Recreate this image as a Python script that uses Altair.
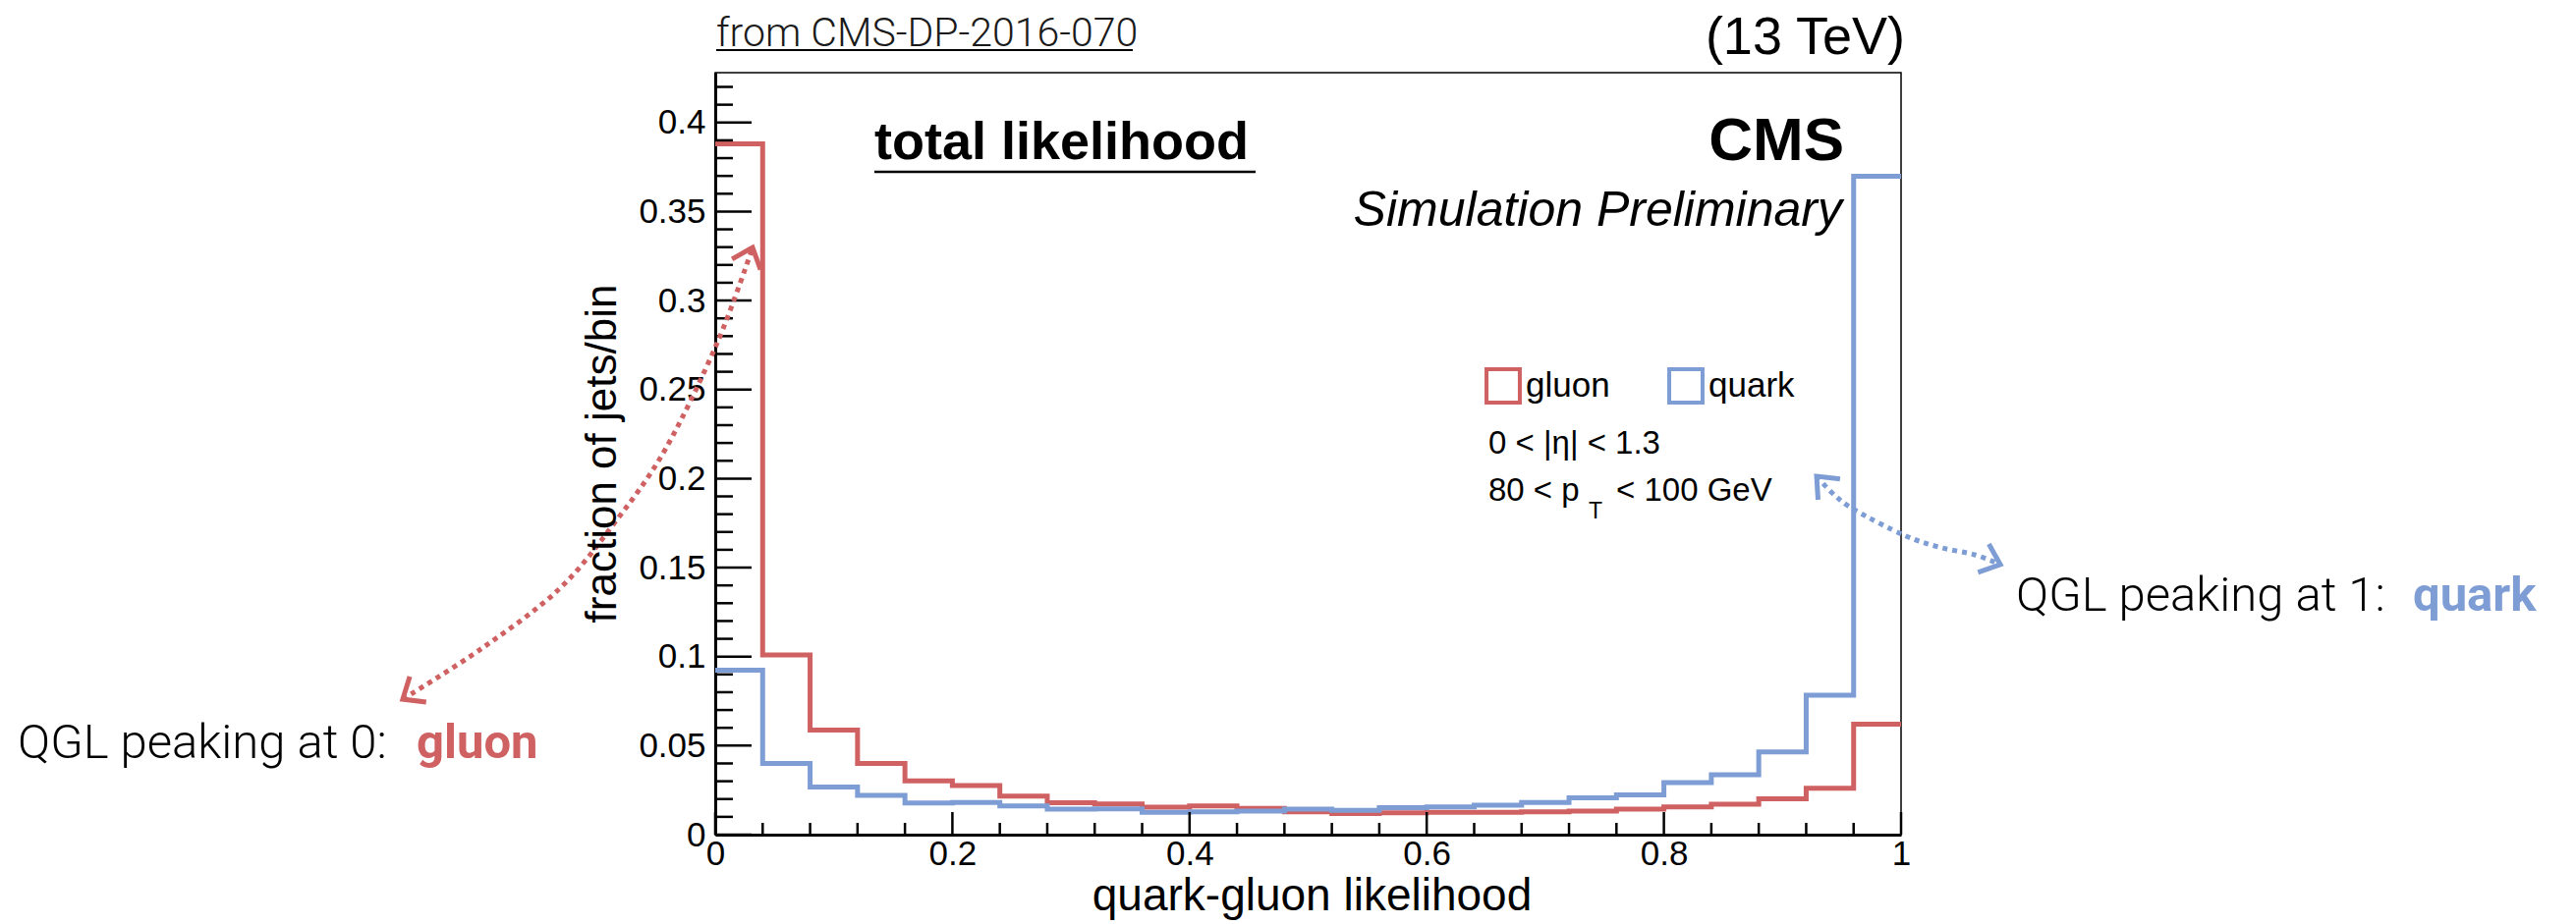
import altair as alt
import numpy as np
import pandas as pd

# Quark-gluon likelihood histograms: 25 bins of width 0.04 on [0, 1]
bin_lo = [0.00, 0.04, 0.08, 0.12, 0.16, 0.20, 0.24, 0.28, 0.32, 0.36,
          0.40, 0.44, 0.48, 0.52, 0.56, 0.60, 0.64, 0.68, 0.72, 0.76,
          0.80, 0.84, 0.88, 0.92, 0.96]
gluon_frac = [0.388, 0.101, 0.0587, 0.0400, 0.0302, 0.0276, 0.0217, 0.0179, 0.0173, 0.0154,
              0.0161, 0.0148, 0.0128, 0.0118, 0.0123, 0.0125, 0.0126, 0.0128, 0.0132, 0.0143,
              0.0156, 0.0171, 0.0202, 0.0260, 0.0620]
quark_frac = [0.0924, 0.0400, 0.0268, 0.0221, 0.0178, 0.0180, 0.0161, 0.0143, 0.0145, 0.0125,
              0.0128, 0.0133, 0.0143, 0.0136, 0.0152, 0.0156, 0.0166, 0.0180, 0.0207, 0.0224,
              0.0293, 0.0337, 0.0464, 0.0783, 0.3698]
flavours = ["gluon", "quark"]

# Axis ticks
y_major = [0, 0.05, 0.1, 0.15, 0.2, 0.25, 0.3, 0.35, 0.4]
y_minor = [round(0.01 * i, 2) for i in range(43) if i % 5 != 0]
x_major = [0, 0.2, 0.4, 0.6, 0.8, 1]
x_minor = [round(0.04 * i, 2) for i in range(26) if i % 5 != 0]

# Dotted annotation arrows, in (likelihood, fraction) coordinates
gluon_arrow_x = [-0.2635, -0.1964, -0.1317, -0.0853, -0.0423, 0.0017, 0.0315]
gluon_arrow_y = [0.0761, 0.1048, 0.1379, 0.1748, 0.2162, 0.2763, 0.3298]
quark_arrow_x = [0.9288, 0.9445, 0.9619, 1.0025, 1.0315, 1.0621, 1.0837]
quark_arrow_y = [0.2013, 0.1903, 0.1820, 0.1682, 0.1616, 0.1572, 0.1517]

RED = "#d06162"
BLUE = "#7e9dd5"
SANS = "Liberation Sans"
LIGHT = "Roboto"

# Frame of the plot inside the page
X0, Y0, W, H = 728, 74, 1207, 776
PAGE_W, PAGE_H = 2622, 941
Y_MAX = 0.428

x_scale = alt.Scale(domain=[0, 1], nice=False, zero=False)
y_scale = alt.Scale(domain=[0, Y_MAX], nice=False, zero=False)

X_AXIS = alt.Axis(
    values=x_major, format="~g", ticks=False, grid=False, labelFlush=False,
    labelFont=SANS, labelFontSize=35, labelColor="black", labelPadding=2,
    domainColor="black", domainWidth=3, title=None)
Y_AXIS = alt.Axis(
    values=y_major, format="~g", ticks=False, grid=False,
    labelFont=SANS, labelFontSize=35, labelColor="black", labelPadding=10,
    domainColor="black", domainWidth=3, title=None)


def xq(field="x"):
    return alt.X(f"{field}:Q", scale=x_scale, axis=X_AXIS)


def yq(field="y"):
    return alt.Y(f"{field}:Q", scale=y_scale, axis=Y_AXIS)


def to_px(x, y):
    return X0 + x * W, Y0 + (1 - y / Y_MAX) * H


def to_data(px, py):
    return (px - X0) / W, (1 - (py - Y0) / H) * Y_MAX


def arrow_head(tip, prev, length=24.0, half_angle=40.0):
    tx, ty = to_px(*tip)
    qx, qy = to_px(*prev)
    ang = np.arctan2(ty - qy, tx - qx)
    wings = []
    for s in (1, -1):
        a = ang + np.pi + s * np.radians(half_angle)
        wings.append(to_data(tx + length * np.cos(a), ty + length * np.sin(a)))
    return [wings[0], tip, wings[1]]


# ---- histograms (step outlines) ----
rows = []
for name, vals in zip(flavours, [gluon_frac, quark_frac]):
    for lo, v in zip(bin_lo, vals):
        rows.append({"flavour": name, "x": lo, "y": v})
    rows.append({"flavour": name, "x": 1.0, "y": vals[-1]})
hist_df = pd.DataFrame(rows)

hist = alt.Chart(hist_df).mark_line(
    interpolate="step-after", strokeWidth=5, strokeCap="butt", strokeJoin="miter"
).encode(
    x=xq(), y=yq(),
    color=alt.Color("flavour:N", scale=alt.Scale(domain=flavours, range=[RED, BLUE]),
                    legend=alt.Legend(
                        title=None, orient="none", legendX=783, legendY=300,
                        direction="horizontal", symbolType="square", symbolSize=1150,
                        symbolStrokeWidth=4, symbolFillColor="transparent",
                        labelFont=SANS, labelFontSize=35, labelColor="black",
                        labelOffset=4, columnPadding=52, padding=0)),
)

# ---- inner tick marks ----
y_tick_major = alt.Chart(pd.DataFrame({"y": y_major})).mark_rule(
    color="black", strokeWidth=2.5).encode(y=yq(), x=alt.value(0), x2=alt.value(37))
y_tick_minor = alt.Chart(pd.DataFrame({"y": y_minor})).mark_rule(
    color="black", strokeWidth=2.5).encode(y=yq(), x=alt.value(0), x2=alt.value(18))
x_tick_major = alt.Chart(pd.DataFrame({"x": x_major})).mark_rule(
    color="black", strokeWidth=2.5).encode(x=xq(), y=alt.value(H), y2=alt.value(H - 23))
x_tick_minor = alt.Chart(pd.DataFrame({"x": x_minor})).mark_rule(
    color="black", strokeWidth=2.5).encode(x=xq(), y=alt.value(H), y2=alt.value(H - 12))


# ---- dotted arrows ----
def dotted(xs, ys, color):
    df = pd.DataFrame({"x": xs, "y": ys, "i": range(len(xs))})
    return alt.Chart(df).mark_line(
        interpolate="cardinal", strokeWidth=5, strokeDash=[5, 5], color=color
    ).encode(x=xq(), y=yq(), order="i:Q")


def heads(xs, ys, color):
    pts = list(zip(xs, ys))
    rows = []
    for k, (tip, prev) in enumerate([(pts[0], pts[1]), (pts[-1], pts[-2])]):
        for j, (hx, hy) in enumerate(arrow_head(tip, prev)):
            rows.append({"x": hx, "y": hy, "h": k, "i": j})
    return alt.Chart(pd.DataFrame(rows)).mark_line(
        strokeWidth=5, color=color, strokeJoin="miter"
    ).encode(x=xq(), y=yq(), detail="h:N", order="i:Q")


# ---- text annotations (page pixel positions) ----
def label(txt, px, py, size, font=SANS, weight="normal", style="normal",
          align="left", color="black", angle=0):
    return alt.Chart(pd.DataFrame({"t": [txt]})).mark_text(
        font=font, fontSize=size, fontWeight=weight, fontStyle=style,
        align=align, baseline="alphabetic", color=color, angle=angle
    ).encode(text="t:N", x=alt.value(px - X0), y=alt.value(py - Y0))


def underline(x1, x2, py, width=2.5):
    return alt.Chart(pd.DataFrame({"a": [0]})).mark_rule(
        color="black", strokeWidth=width).encode(
        x=alt.value(x1 - X0), x2=alt.value(x2 - X0), y=alt.value(py - Y0))


texts = [
    # axis titles
    label("quark-gluon likelihood", X0 + W / 2 + 4, 927, 46, align="center"),
    label("fraction of jets/bin", 627, Y0 + H / 2, 44, align="center", angle=270),
    # header and stamps
    label("from CMS-DP-2016-070", 729, 47, 41, font=LIGHT, weight=300, color="#1a1a1a"),
    underline(729, 1153, 51, 2),
    label("(13 TeV)", 1939, 55, 54, align="right"),
    label("total likelihood", 890, 162, 54, weight="bold"),
    underline(890, 1278, 175, 2.5),
    label("CMS", 1877, 163, 62, weight="bold", align="right"),
    label("Simulation Preliminary", 1875, 230, 50, style="italic", align="right"),
    # selection cuts
    label("0 < |η| < 1.3", 1515, 462, 33),
    label("80 < p", 1515, 510, 33),
    label("T", 1617, 528, 23),
    label("< 100 GeV", 1645, 510, 33),
    # side annotations
    label("QGL peaking at 0:", 18, 772, 49, font=LIGHT, weight=300),
    label("gluon", 424, 772, 49, font=LIGHT, weight="bold", color=RED),
    label("QGL peaking at 1:", 2052, 622, 49, font=LIGHT, weight=300),
    label("quark", 2456, 622, 49, font=LIGHT, weight="bold", color=BLUE),
]

chart = alt.layer(
    hist,
    y_tick_minor, y_tick_major, x_tick_minor, x_tick_major,
    dotted(gluon_arrow_x, gluon_arrow_y, RED), heads(gluon_arrow_x, gluon_arrow_y, RED),
    dotted(quark_arrow_x, quark_arrow_y, BLUE), heads(quark_arrow_x, quark_arrow_y, BLUE),
    *texts,
).properties(
    width=W, height=H,
    autosize=alt.AutoSizeParams(type="none"),
    padding={"left": X0, "top": Y0, "right": PAGE_W - X0 - W, "bottom": PAGE_H - Y0 - H},
    background="white",
).configure_view(stroke="black", strokeWidth=1.5)

chart.save("out.html", embed_options={"renderer": "svg", "actions": False})
